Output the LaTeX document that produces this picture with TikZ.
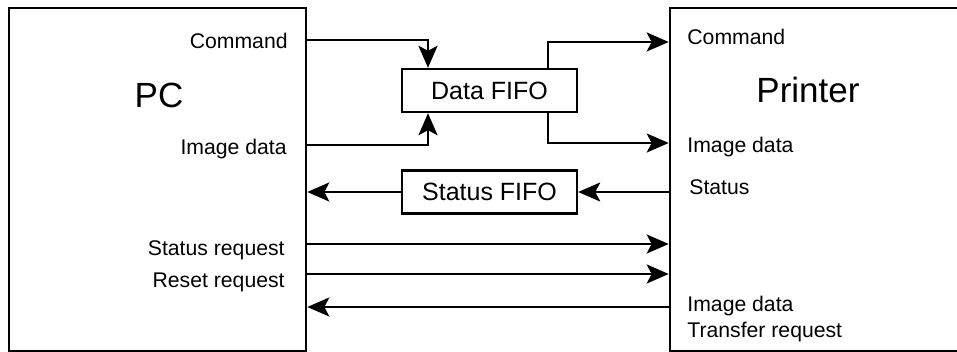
\documentclass[tikz,border=0pt]{standalone}
\usepackage{fontspec}
\setmainfont{Liberation Sans}
\usepackage{tikz}
\usepackage{xcolor}
\usetikzlibrary{arrows.meta,positioning,calc}
\definecolor{LineBlack}{HTML}{000000}
\definecolor{PaperWhite}{HTML}{ffffff}
\tikzset{
    % Big unit box (PC, printer)
    unitbox/.style={
        draw=LineBlack,
        fill=PaperWhite,
        line width=1.3pt,
        inner sep=0pt
    },
    % FIFO box style
    fifobox/.style={
        draw=LineBlack,
        fill=PaperWhite,
        line width=1.2pt,
        minimum width=87.5pt,
        minimum height=21.5pt,
        inner sep=0pt,
        font=\fontsize{12.5}{15}\selectfont
    },
    % Unit title
    unittitle/.style={
        inner sep=0pt,
        anchor=base,
        font=\fontsize{17.5}{21}\selectfont
    },
    % Port labels
    portlabel/.style={
        inner sep=0pt,
        align=left,
        font=\fontsize{10.6}{13}\selectfont
    },
    % Signal arrow (straight lines only)
    sigline/.style={
        -{Stealth[length=11pt,width=9.5pt,inset=2.5pt]},
        line width=1.25pt,
        draw=LineBlack
    }
}
\begin{document}
\begin{tikzpicture}[x=0.5pt, y=-0.5pt]
        \useasboundingbox (0,0) rectangle (957,352);

        % Units
        \node[unitbox, minimum width=148.5pt, minimum height=171.5pt] (pc) at (157.5,179.5) {};
        \node[unitbox, minimum width=146pt, minimum height=171.5pt] (printer) at (816,179.5) {};
        \node[unittitle] (pctitle) at (159,108) {PC};
        \node[unittitle] (printertitle) at (808,103) {Printer};

        % FIFOs
        \node[fifobox] (datafifo) at (489.5,90.5) {Data FIFO};
        \node[fifobox] (statusfifo) at (489.5,192) {Status FIFO};

        % PC side labels
        \node[portlabel, anchor=base east] (pccmd) at (288,49) {Command};
        \node[portlabel, anchor=base east] (pcimg) at (287,155) {Image data};
        \node[portlabel, anchor=base east] (pcstreq) at (285,256) {Status request};
        \node[portlabel, anchor=base east] (pcrstreq) at (285,287) {Reset request};

        % Printer side labels
        \node[portlabel, anchor=base west] (prcmd) at (687,45) {Command};
        \node[portlabel, anchor=base west] (primg) at (687,153) {Image data};
        \node[portlabel, anchor=base west] (prstat) at (689,195) {Status};
        \node[portlabel, anchor=north west] (prxfer) at (687,296) {Image data\\Transfer request};

        % Data path through the FIFO
        \draw[sigline] (pc.east |- 0,40) -| ([xshift=-30.75pt]datafifo.north);
        \draw[sigline] (pc.east |- 0,145) -| ([xshift=-30.75pt]datafifo.south);
        \draw[sigline] ([xshift=29.25pt]datafifo.north) |- (printer.west |- 0,42);
        \draw[sigline] ([xshift=29.25pt]datafifo.south) |- (printer.west |- 0,143);

        % Status path
        \draw[sigline] (printer.west |- statusfifo.east) -- (statusfifo.east);
        \draw[sigline] (statusfifo.west) -- (pc.east |- statusfifo.west);

        % Direct requests
        \draw[sigline] (pc.east |- 0,244) -- (printer.west |- 0,244);
        \draw[sigline] (pc.east |- 0,274) -- (printer.west |- 0,274);
        \draw[sigline] (printer.west |- 0,307) -- (pc.east |- 0,307);
    \end{tikzpicture}
\end{document}
